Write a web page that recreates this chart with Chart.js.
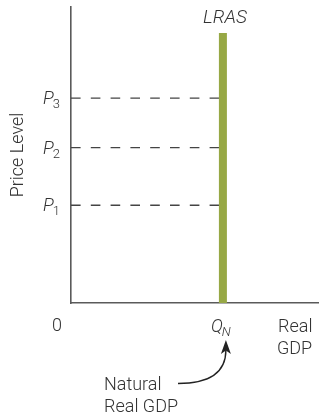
<!DOCTYPE html>
<html>
<head>
<meta charset="utf-8">
<script src="https://cdn.jsdelivr.net/npm/chart.js@4.4.0/dist/chart.umd.min.js"></script>
<style>
  html, body { margin: 0; padding: 0; background: #fff; }
  canvas { display: block; }
</style>
</head>
<body>
<canvas id="lras" width="322" height="419"></canvas>
<script>
// price levels on the vertical axis (0-100 scale)
const priceNames = ["P", "P", "P"];
const priceSubs = ["1", "2", "3"];
const priceLevels = [33, 52.5, 69.2];

// natural real GDP on the horizontal axis
const qN = 61.5;
const lrasTop = 91.2;

const axisColor = "#5a5a5a";
const textColor = "#333";
const green = "#97a845";
const font = "Roboto, 'Liberation Sans', sans-serif";

// dashed guides from the price axis to the LRAS line
const guideSets = priceLevels.map(p => ({
  data: [{ x: 0, y: p }, { x: qN, y: p }],
  borderColor: "#444",
  borderWidth: 1.4,
  borderDash: [9.6, 10.2],
  borderCapStyle: "butt",
  pointRadius: 0,
  order: 2
}));

const lrasSet = {
  data: [{ x: qN, y: 0 }, { x: qN, y: lrasTop }],
  borderColor: green,
  borderWidth: 8,
  borderCapStyle: "butt",
  pointRadius: 0,
  order: 1
};

function subLabel(ctx, x, y, main, sub, size, subItalic) {
  ctx.font = "italic 300 " + size + "px " + font;
  ctx.textAlign = "left";
  ctx.textBaseline = "alphabetic";
  ctx.fillText(main, x, y);
  const w = ctx.measureText(main).width;
  ctx.font = (subItalic ? "italic " : "") + "300 " + Math.round(size * 0.72) + "px " + font;
  ctx.fillText(sub, x + w - 1, y + 4);
}

const labels = {
  id: "labels",
  afterDraw(chart) {
    const ctx = chart.ctx;
    const xs = chart.scales.x, ys = chart.scales.y;
    ctx.save();
    ctx.fillStyle = textColor;

    // P1..P3
    priceLevels.forEach((p, i) => {
      subLabel(ctx, 43, ys.getPixelForValue(p) + 6, priceNames[i], priceSubs[i], 18, false);
    });

    // vertical axis title
    ctx.save();
    ctx.translate(23, 155);
    ctx.rotate(-Math.PI / 2);
    ctx.font = "300 18px " + font;
    ctx.textAlign = "center";
    ctx.textBaseline = "alphabetic";
    ctx.fillText("Price Level", 0, 0);
    ctx.restore();

    const qx = xs.getPixelForValue(qN);

    // LRAS title above the line
    ctx.font = "italic 300 19px " + font;
    ctx.textAlign = "center";
    ctx.textBaseline = "alphabetic";
    ctx.fillText("LRAS", qx + 2, ys.getPixelForValue(lrasTop) - 10);

    // origin and Q_N
    ctx.font = "300 18px " + font;
    ctx.fillText("0", 57, 331);
    subLabel(ctx, qx - 12, 332, "Q", "N", 18, true);

    // horizontal axis title
    ctx.textAlign = "left";
    ctx.font = "300 18px " + font;
    ctx.fillText("Real", 278, 332);
    ctx.fillText("GDP", 277, 354);

    // callout
    ctx.fillText("Natural", 104, 390);
    ctx.fillText("Real GDP", 104, 412);

    const tipX = qx + 3, tipY = 340;
    ctx.strokeStyle = "#222";
    ctx.lineWidth = 1.4;
    ctx.beginPath();
    ctx.moveTo(178, 383.5);
    ctx.bezierCurveTo(205, 383.5, tipX, 376, tipX, 350);
    ctx.stroke();
    ctx.fillStyle = "#222";
    ctx.beginPath();
    ctx.moveTo(tipX, tipY);
    ctx.lineTo(tipX + 5, tipY + 14);
    ctx.lineTo(tipX, tipY + 10.5);
    ctx.lineTo(tipX - 5, tipY + 14);
    ctx.closePath();
    ctx.fill();

    ctx.restore();
  }
};

new Chart(document.getElementById("lras"), {
  type: "line",
  data: { datasets: [...guideSets, lrasSet] },
  options: {
    responsive: false,
    animation: false,
    layout: { padding: { left: 71, right: 4, top: 7, bottom: 116 } },
    plugins: { legend: { display: false }, tooltip: { enabled: false } },
    scales: {
      x: {
        type: "linear", min: 0, max: 100,
        grid: { display: false, drawTicks: false },
        ticks: { display: false },
        border: { color: axisColor, width: 1.6 },
        afterFit: s => { s.height = 0; }
      },
      y: {
        type: "linear", min: 0, max: 100,
        grid: { display: false, drawTicks: false },
        ticks: { display: false },
        border: { color: axisColor, width: 1.6 },
        afterFit: s => { s.width = 0; }
      }
    }
  },
  plugins: [labels]
});
</script>
</body>
</html>
